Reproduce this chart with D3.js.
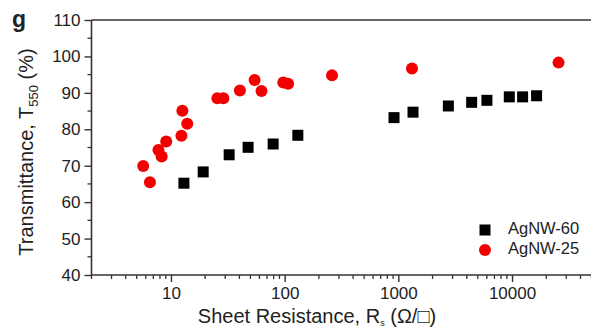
<!DOCTYPE html>
<html><head><meta charset="utf-8">
<script src="https://cdn.jsdelivr.net/npm/d3@7"></script>
<style>body{margin:0;background:#fff}svg{display:block}text{font-family:"Liberation Sans",Arial,sans-serif;fill:#222}</style>
</head><body><svg id="c" width="591" height="328"></svg>
<script>
const agnw60_R = [13.0, 19.2, 32.5, 47.7, 79.2, 130.6, 916, 1346, 2754, 4414, 6012, 9460, 12390, 16440];
const agnw60_T = [65.2, 68.3, 73.0, 75.05, 75.96, 78.35, 83.2, 84.7, 86.4, 87.4, 87.95, 88.9, 88.9, 89.2];
const agnw25_R = [5.70, 6.53, 7.76, 8.28, 9.08, 12.36, 13.9, 12.6, 25.6, 28.9, 40.4, 54.4, 62.6, 97.3, 107.2, 261, 1318, 25650];
const agnw25_T = [69.9, 65.45, 74.3, 72.5, 76.65, 78.2, 81.5, 85.1, 88.5, 88.5, 90.65, 93.5, 90.5, 92.85, 92.5, 94.8, 96.7, 98.3];
const yTicks = [40, 50, 60, 70, 80, 90, 100, 110];
const xTicks = [10, 100, 1000, 10000];
const seriesNames = ["AgNW-60", "AgNW-25"];

const svg = d3.select("#c");
const L = 91.5, T = 20, B = 275, R = 591.5;
const x = d3.scaleLog().domain([2, 50000]).range([L, R]);
const y = d3.scaleLinear().domain([40, 110]).range([B, T]);
const axisCol = "#333";

const minorX = [];
for (let e = 0; e <= 4; e++) for (let m = 2; m <= 9; m++) { const v = m * Math.pow(10, e); if (v >= 2 && v <= 50000) minorX.push(v); }
const xAxis = d3.axisBottom(x).tickValues(xTicks).tickFormat(d3.format("d")).tickSize(7).tickPadding(5);
const gx = svg.append("g").attr("transform", `translate(0,${B})`).call(xAxis);
gx.append("g").selectAll("line").data(minorX.filter(v => !xTicks.includes(v))).join("line")
  .attr("x1", d => x(d)).attr("x2", d => x(d)).attr("y1", 0).attr("y2", 4).attr("stroke", axisCol).attr("stroke-width", 1.3);
const yAxis = d3.axisLeft(y).tickValues(yTicks).tickSize(7).tickPadding(4);
const gy = svg.append("g").attr("transform", `translate(${L},0)`).call(yAxis);
gy.append("g").selectAll("line").data(d3.range(45, 110, 10)).join("line")
  .attr("x1", 0).attr("x2", -4).attr("y1", d => y(d)).attr("y2", d => y(d)).attr("stroke", axisCol).attr("stroke-width", 1.3);
[gx, gy].forEach(g => {
  g.select(".domain").attr("stroke", axisCol).attr("stroke-width", 1.6);
  g.selectAll(".tick line").attr("stroke", axisCol).attr("stroke-width", 1.4);
  g.selectAll(".tick text").attr("font-size", 17).attr("fill", "#222").attr("font-family", '"Liberation Sans",Arial,sans-serif');
});
gx.select(".domain").attr("d", `M${L},0H${R}`);
gy.select(".domain").attr("d", `M0,${B}V${T}`);
svg.append("line").attr("x1", L).attr("x2", R).attr("y1", T).attr("y2", T).attr("stroke", axisCol).attr("stroke-width", 1.6);

const d60 = agnw60_R.map((r, i) => ({ r, t: agnw60_T[i] }));
const d25 = agnw25_R.map((r, i) => ({ r, t: agnw25_T[i] }));
const s = 11, rad = 6;
svg.append("g").selectAll("rect").data(d60).join("rect")
  .attr("x", d => x(d.r) - s / 2).attr("y", d => y(d.t) - s / 2).attr("width", s).attr("height", s).attr("fill", "#000");
svg.append("g").selectAll("circle").data(d25).join("circle")
  .attr("cx", d => x(d.r)).attr("cy", d => y(d.t)).attr("r", rad).attr("fill", "#f20000");

const lg = svg.append("g");
lg.append("rect").attr("x", 485 - s / 2).attr("y", 230 - s / 2).attr("width", s).attr("height", s).attr("fill", "#000");
lg.append("circle").attr("cx", 485).attr("cy", 250).attr("r", rad).attr("fill", "#f20000");
lg.selectAll("text").data(seriesNames).join("text").attr("x", 508).attr("y", (d, i) => 230 + i * 20)
  .attr("dominant-baseline", "middle").attr("font-size", 16.5).text(d => d);

const yt = svg.append("text").attr("transform", "translate(33,152) rotate(-90)").attr("text-anchor", "middle").attr("font-size", 20);
yt.append("tspan").text("Transmittance, T");
yt.append("tspan").attr("font-size", 13).attr("dy", 5).text("550");
yt.append("tspan").attr("dy", -5).text(" (%)");
const xt = svg.append("text").attr("x", 317).attr("y", 323).attr("text-anchor", "middle").attr("font-size", 20);
xt.append("tspan").text("Sheet Resistance, R");
xt.append("tspan").attr("font-size", 9).attr("dy", 3).text("s");
xt.append("tspan").attr("dy", -3).text(" (Ω/□)");
svg.append("text").attr("x", 12).attr("y", 27).attr("font-size", 23).attr("font-weight", "bold").attr("fill", "#111").text("g");
</script></body></html>
